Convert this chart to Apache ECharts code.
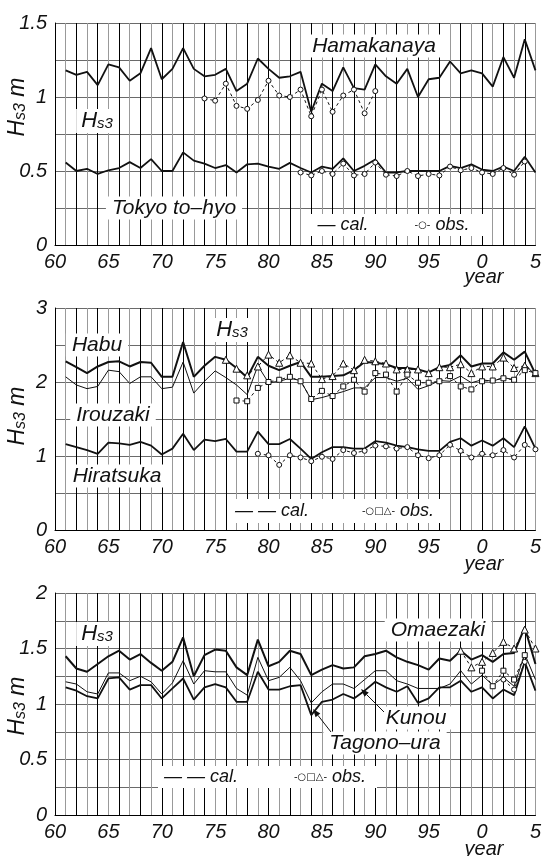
<!DOCTYPE html>
<html><head><meta charset="utf-8">
<script src="https://cdn.jsdelivr.net/npm/echarts@6/dist/echarts.min.js"></script>
<style>html,body{margin:0;padding:0;background:#fff}#c{width:544px;height:856px}</style>
</head><body><div id="c"></div>
<script>
// ---------- data ----------
const years = [1960,1961,1962,1963,1964,1965,1966,1967,1968,1969,1970,1971,1972,1973,1974,1975,1976,1977,1978,1979,
  1980,1981,1982,1983,1984,1985,1986,1987,1988,1989,1990,1991,1992,1993,1994,1995,1996,1997,1998,1999,
  2000,2001,2002,2003,2004,2005];

// Panel 1 (cal. from 1961)
const hamakanayaCal = [1.18,1.15,1.17,1.08,1.22,1.20,1.11,1.16,1.33,1.12,1.19,1.33,1.19,1.14,1.15,1.19,1.04,1.09,1.26,1.19,1.13,1.14,1.17,0.90,1.09,1.04,1.20,1.06,1.05,1.22,1.14,1.09,1.19,1.00,1.12,1.13,1.24,1.16,1.18,1.16,1.07,1.27,1.13,1.39,1.18];
const hamakanayaObs = [0.99,0.975,1.09,0.94,0.92,0.98,1.11,1.01,1.00,1.05,0.87,1.05,0.90,1.01,1.05,0.89,1.04]; // from 1974
const tokyoCal = [0.557,0.50,0.515,0.48,0.505,0.52,0.56,0.52,0.58,0.50,0.50,0.626,0.57,0.55,0.52,0.54,0.49,0.545,0.55,0.53,0.515,0.555,0.52,0.49,0.53,0.515,0.585,0.50,0.535,0.578,0.49,0.49,0.50,0.50,0.50,0.50,0.535,0.52,0.545,0.51,0.50,0.53,0.50,0.596,0.49];
const tokyoObs = [0.49,0.47,0.50,0.48,0.55,0.47,0.48,0.557,0.475,0.466,0.50,0.466,0.48,0.47,0.53,0.505,0.52,0.49,0.48,0.52,0.475,0.564]; // from 1983

// Panel 2
const habuCal = [2.28,2.20,2.12,2.21,2.27,2.28,2.21,2.27,2.26,2.07,2.07,2.54,2.07,2.22,2.34,2.30,2.19,2.06,2.34,2.22,2.16,2.22,2.27,2.07,2.07,2.08,2.09,2.16,2.27,2.26,2.24,2.19,2.19,2.17,2.13,2.20,2.23,2.36,2.21,2.25,2.25,2.40,2.30,2.41,2.11];
const habuObs = [2.30,2.18,2.09,2.21,2.37,2.26,2.36,2.26,2.25,2.04,2.08,2.25,2.16,2.30,2.28,2.25,2.17,2.17,2.17,2.12,2.20,2.20,2.24,2.12,2.21,2.21,2.33,2.19,2.22,2.12]; // from 1976
const irouzakiCal = [2.07,1.96,1.91,1.94,2.16,2.14,1.98,2.07,2.07,1.91,1.93,2.27,1.85,2.01,2.15,2.06,1.96,1.83,2.22,1.99,2.01,2.05,2.02,1.76,1.79,1.83,1.87,1.92,1.92,2.06,2.06,2.01,2.05,1.90,1.95,2.02,2.01,2.08,1.99,2.03,2.01,2.06,2.03,2.25,2.08];
const irouzakiObs = [1.75,1.74,1.92,2.00,2.03,2.07,2.01,1.77,1.88,1.81,1.94,2.03,1.87,2.12,2.10,1.87,2.10,1.99,1.99,2.01,2.08,1.94,1.90,2.01,2.02,2.05,2.03,2.16,2.12]; // from 1977
const hiratsukaCal = [1.16,1.12,1.08,1.03,1.18,1.17,1.15,1.19,1.14,1.02,1.10,1.30,1.08,1.22,1.20,1.23,1.06,1.06,1.33,1.16,1.16,1.23,1.10,0.96,1.05,1.12,1.12,1.10,1.10,1.20,1.18,1.14,1.12,1.09,1.07,1.07,1.19,1.24,1.14,1.21,1.14,1.24,1.12,1.40,1.10];
const hiratsukaObs = [1.03,1.01,0.88,1.01,0.98,0.93,0.99,0.96,1.08,1.04,1.07,1.14,1.13,1.10,1.12,1.01,0.97,1.01,1.15,1.07,0.98,1.03,1.01,1.08,0.98,1.15,1.09]; // from 1979

// Panel 3
const omaezakiCal = [1.43,1.32,1.29,1.36,1.43,1.48,1.40,1.45,1.37,1.30,1.38,1.60,1.25,1.44,1.49,1.48,1.33,1.26,1.58,1.34,1.38,1.48,1.45,1.26,1.31,1.35,1.32,1.33,1.43,1.45,1.48,1.42,1.38,1.35,1.31,1.41,1.39,1.48,1.40,1.44,1.38,1.45,1.46,1.69,1.36];
const kunouCal = [1.20,1.18,1.11,1.09,1.28,1.28,1.21,1.25,1.20,1.09,1.19,1.39,1.18,1.30,1.29,1.29,1.14,1.08,1.42,1.21,1.24,1.33,1.21,1.01,1.11,1.18,1.18,1.14,1.22,1.30,1.30,1.21,1.18,1.14,1.14,1.14,1.18,1.30,1.18,1.26,1.17,1.24,1.16,1.45,1.22];
const tagonouraCal = [1.15,1.12,1.07,1.05,1.23,1.24,1.13,1.17,1.17,1.05,1.14,1.23,1.04,1.15,1.18,1.15,1.02,1.02,1.29,1.13,1.13,1.16,1.17,0.90,1.02,1.04,1.09,1.05,1.12,1.20,1.15,1.11,1.16,1.01,1.05,1.15,1.15,1.21,1.11,1.15,1.05,1.13,1.08,1.38,1.12];
const omaezakiObs = [1.48,1.33,1.38,1.46,1.56,1.50,1.67,1.50]; // from 1998
const kunouObs = [1.30,1.16,1.30,1.22,1.44]; // from 2000
const tagonouraObs = [1.22,1.13,1.38]; // from 2002

// ---------- chart ----------
const FF = '"Liberation Sans", Arial, sans-serif';
function place(start, vals){
  const out = years.map(()=>null);
  const s = years.indexOf(start);
  vals.forEach((v,i)=>{ out[s+i] = v; });
  return out;
}
function cal(i, data, w){
  return {type:'line', xAxisIndex:i, yAxisIndex:i, data:place(1961, data), symbol:'none',
    lineStyle:{color:'#111', width:w}, z:3, silent:true, animation:false};
}
function obs(i, start, data, sym, size){
  return {type:'line', xAxisIndex:i, yAxisIndex:i, data:place(start, data), symbol:sym, symbolSize:size,
    showAllSymbol:true, itemStyle:{color:'#fff', borderColor:'#111', borderWidth:1},
    lineStyle:{color:'#111', width:1, type:[3,3]}, z:4, silent:true, animation:false};
}
const tops = [23, 308, 593];
const grids = tops.map(t => ({left:55, right:6, top:t, height:222}));
const xAxes = [0,1,2].map(i => ({
  type:'category', gridIndex:i, data:years, boundaryGap:false,
  axisLine:{lineStyle:{color:'#000', width:1}}, axisTick:{show:false},
  axisLabel:{interval:4, formatter:v=>String(Number(v)%100), fontSize:20, fontStyle:'italic', color:'#111', margin:7, fontFamily:FF},
  splitLine:{show:true, interval:0, lineStyle:{color:['#000','#999'], width:1}}
}));
function yAx(i, max, interval, labelStep){
  return {type:'value', gridIndex:i, min:0, max:max, interval:interval,
    axisLine:{show:true, lineStyle:{color:'#000', width:1}}, axisTick:{show:false},
    axisLabel:{formatter:v=>{const r=v/labelStep; return Math.abs(r-Math.round(r))<1e-6 ? String(v) : '';},
      fontSize:20, fontStyle:'italic', color:'#111', margin:8, fontFamily:FF},
    splitLine:{show:true, lineStyle:{color:'#6a6a6a', width:1.2}}};
}
const yAxes = [yAx(0,1.5,0.25,0.5), yAx(1,3,0.5,1), yAx(2,2,0.25,0.5)];

const series = [
  cal(0, hamakanayaCal, 1.8), obs(0, 1974, hamakanayaObs, 'circle', 5),
  cal(0, tokyoCal, 1.8), obs(0, 1983, tokyoObs, 'circle', 5),
  cal(1, habuCal, 2), cal(1, irouzakiCal, 1), cal(1, hiratsukaCal, 1.8),
  obs(1, 1976, habuObs, 'triangle', 7), obs(1, 1977, irouzakiObs, 'rect', 5), obs(1, 1979, hiratsukaObs, 'circle', 5),
  cal(2, omaezakiCal, 2), cal(2, kunouCal, 1), cal(2, tagonouraCal, 1.8),
  obs(2, 1998, omaezakiObs, 'triangle', 7), obs(2, 2000, kunouObs, 'rect', 5), obs(2, 2002, tagonouraObs, 'circle', 5)
];

function font(sz){ return 'italic ' + sz + 'px ' + FF; }
function label(txt, x, y, sz, bg){
  return {type:'text', x:x, y:y, z:20, silent:true,
    style:{text:txt, font:font(sz||21), fill:'#111', align:'center', verticalAlign:'middle',
      backgroundColor: bg===false ? null : '#fff', padding:[1,6]}};
}
function hs3(x, y){
  return {type:'text', x:x, y:y, z:20, silent:true,
    style:{text:'{h|H}{s|s3}', align:'center', verticalAlign:'middle', backgroundColor:'#fff', padding:[1,5],
      rich:{h:{font:font(22), fill:'#111'}, s:{font:font(15), fill:'#111', padding:[6,0,0,0]}}}};
}
function ytitle(y){
  return {type:'text', x:18, y:y, rotation:Math.PI/2, z:20, silent:true,
    style:{text:'{h|H}{s|s3}{h| m}', align:'center', verticalAlign:'middle',
      rich:{h:{font:font(23), fill:'#111'}, s:{font:font(16), fill:'#111', padding:[6,0,0,0]}}}};
}
function box(x1, y1, x2, y2){
  return {type:'rect', z:19, silent:true, shape:{x:x1, y:y1, width:x2-x1, height:y2-y1}, style:{fill:'#fff'}};
}
function legendTxt(sym, txt, x, y){
  return {type:'text', x:x, y:y, z:21, silent:true,
    style:{text:'{m|'+sym+'}{t| '+txt+'}', align:'center', verticalAlign:'middle',
      rich:{m:{font:'10px "DejaVu Sans", sans-serif', fill:'#111'}, t:{font:font(18), fill:'#111'}}}};
}
function calLegend(dash, x, y){
  return {type:'text', x:x, y:y, z:21, silent:true,
    style:{text:dash+' cal.', font:font(18), fill:'#111', align:'center', verticalAlign:'middle'}};
}
function arrow(x1,y1,x2,y2){
  const a = Math.atan2(y2-y1, x2-x1), L = 8, W = 3;
  const bx = x2 - L*Math.cos(a), by = y2 - L*Math.sin(a);
  return [
    {type:'line', z:20, silent:true, shape:{x1:x1,y1:y1,x2:bx,y2:by}, style:{stroke:'#111', lineWidth:1}},
    {type:'polygon', z:20, silent:true, shape:{points:[[x2,y2],[bx - W*Math.sin(a), by + W*Math.cos(a)],[bx + W*Math.sin(a), by - W*Math.cos(a)]]}, style:{fill:'#111'}}
  ];
}

const graphic = [
  // panel 1
  label('Hamakanaya', 374, 46), hs3(97, 121), label('Tokyo to\u2013hyo', 174, 208),
  box(305, 214, 488, 236), calLegend('\u2014', 343, 225), legendTxt('-\u25CB-', 'obs.', 442, 225),
  ytitle(107),
  label('year', 484, 277, 20, false),
  // panel 2
  label('Habu', 97, 345), hs3(232, 330), label('Irouzaki', 113, 415), label('Hiratsuka', 117, 476),
  box(230, 499, 445, 523), calLegend('\u2014 \u2014', 272, 511), legendTxt('-\u25CB\u25A1\u25B3-', 'obs.', 398, 511),
  ytitle(416),
  label('year', 484, 564, 20, false),
  // panel 3
  label('Omaezaki', 438, 630), hs3(97, 634), label('Kunou', 416, 718), label('Tagono\u2013ura', 385, 743),
  box(158, 766, 377, 788), calLegend('\u2014 \u2014', 201, 777), legendTxt('-\u25CB\u25A1\u25B3-', 'obs.', 330, 777),
  ytitle(706),
  label('year', 484, 849, 20, false)
].concat(arrow(384, 712, 361, 689), arrow(331, 732, 313, 709));

const chart = echarts.init(document.getElementById('c'), null, {renderer:'canvas'});
chart.setOption({
  animation:false,
  backgroundColor:'#fff',
  grid:grids, xAxis:xAxes, yAxis:yAxes, series:series, graphic:graphic
});
</script></body></html>
